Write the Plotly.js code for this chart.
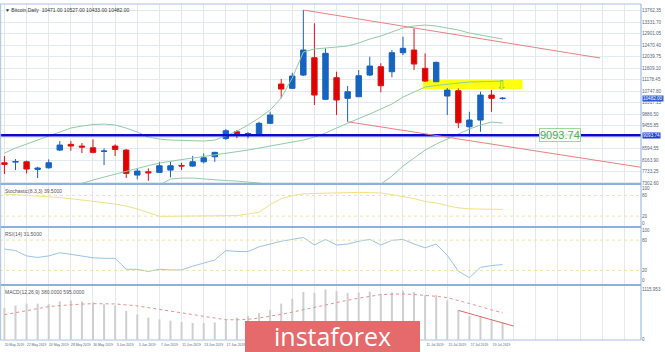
<!DOCTYPE html>
<html><head><meta charset="utf-8">
<script src="https://cdn.plot.ly/plotly-3.0.1.min.js"></script>
<style>html,body{margin:0;padding:0;background:#fff}#c{width:665px;height:352px}</style>
</head><body><div id="c"></div>
<script>
const dates = ["20 May 2019","21 May 2019","22 May 2019","23 May 2019","24 May 2019","27 May 2019","28 May 2019","29 May 2019","30 May 2019","31 May 2019",
"3 Jun 2019","4 Jun 2019","5 Jun 2019","6 Jun 2019","7 Jun 2019","10 Jun 2019","11 Jun 2019","12 Jun 2019","13 Jun 2019","14 Jun 2019",
"17 Jun 2019","18 Jun 2019","19 Jun 2019","20 Jun 2019","21 Jun 2019","24 Jun 2019","25 Jun 2019","26 Jun 2019","27 Jun 2019","28 Jun 2019",
"1 Jul 2019","2 Jul 2019","3 Jul 2019","4 Jul 2019","5 Jul 2019","8 Jul 2019","9 Jul 2019","10 Jul 2019","11 Jul 2019","12 Jul 2019",
"15 Jul 2019","16 Jul 2019","17 Jul 2019","18 Jul 2019","19 Jul 2019","22 Jul 2019"];
const open  = [8060,8086,8098,7812,7872,8537,8751,8687,8623,8488,8687,8537,7598,7722,7700,7786,7955,7936,8098,8285,8969,9224,9100,9100,9540,11015,10854,11353,12003,10441,11252,10478,10538,11353,11665,11477,12191,12292,11605,11102,10565,10764,9412,9664,10602,10471];
const high  = [8312,8199,8143,7910,8188,8875,8875,8800,8939,8601,8751,8575,7861,7850,8098,8098,8060,8312,8413,8473,9326,9288,9213,9600,9975,11203,11440,13794,13295,12356,11477,10940,11541,12040,11793,12292,12791,13107,12168,11853,10865,10854,9975,10726,10790,10527];
const low   = [7636,7786,7662,7486,7842,8500,8511,8424,8413,7974,8312,7486,7437,7384,7673,7512,7786,7910,8038,8098,8913,8988,8976,9082,9513,10478,10828,11316,10227,10415,9851,9600,10527,11316,10704,11267,12104,11541,11090,11090,9851,9363,9036,9224,9975,10433];
const close = [8000,8105,7824,7861,8060,8725,8687,8650,8451,8500,8563,7662,7749,7685,7948,7948,7940,8098,8248,8451,9262,9119,9157,9540,9851,10828,11316,12292,10602,12168,10415,10726,11327,11691,10952,12191,12356,11766,11128,11830,10790,9562,9664,10602,10478,10482];

const bbUpper  = [8424,8612,8762,8913,9063,9213,9363,9438,9495,9513,9476,9363,9213,9025,8950,8913,8894,8875,8875,8913,9063,9251,9476,9739,10039,10490,11241,12217,12330,12367,12405,12442,12555,12705,12818,12968,13118,13193,13231,13193,13118,13043,12930,12855,12780,12705];
const bbMiddle = [6472,6622,6735,6847,6941,7054,7166,7298,7411,7523,7636,7749,7861,7955,8049,8124,8180,8237,8293,8349,8406,8462,8537,8612,8687,8762,8837,8913,9025,9175,9363,9551,9720,9889,10077,10264,10527,10715,10903,10959,11015,11053,11090,11109,11128,11128];
const bbLower  = [4519,4632,4708,4781,4819,4895,4969,5158,5327,5533,5796,6135,6509,6885,7223,7448,7486,7486,7448,7411,7392,7373,7335,7298,7223,7034,6433,5609,5720,5983,6321,6660,6885,7035,7260,7561,7936,8237,8537,8762,8950,9138,9326,9476,9588,9551];

const stoch = [83.9,82,80.5,78.7,77,74,70.4,67,63.9,59.2,54.8,49,40.8,30.1,19.5,19.5,19.5,19.5,19.5,19.5,20.8,21.6,26,31.4,53.2,70.4,79.2,84.7,85.7,87,88.1,89.4,88.8,88,87,82.3,76.9,70.9,62.3,58.4,50.4,43.9,41,40.2,39.8,39.5];
const rsi = [62.4,59.3,48.7,45.7,48.7,55,51.9,48.7,45,43.9,43.9,22.2,22.2,18,22.2,20.9,20.9,28.3,34.6,40.7,59.3,57.4,57.4,66.7,72.2,77.8,81.5,85.2,70.4,81.5,70.4,72.2,77.8,81.5,70.4,79.6,81.5,72.2,64.8,72.2,50,18.5,5.6,25.9,29.6,31.5];
const macdHist = [700,760,800,800,790,850,870,850,830,790,760,640,560,490,450,420,390,370,370,380,450,490,520,590,660,800,910,1060,1040,1116,1080,1040,1050,1070,1020,1050,1090,1060,990,990,870,650,520,520,440,380];
const macdSignal = [552,600,651,693,734,757,779,790,800,798,794,772,750,710,670,632,593,552,511,476,442,440,451,480,517,562,610,665,723,777,831,876,922,962,1002,1010,1017,1004,990,963,936,872,808,735,661,595];

const priceTicks = [7302.60,7733.25,8163.90,8594.55,9025.20,9455.85,9886.50,10317.15,10747.80,11178.45,11609.10,12039.75,12470.40,12901.05,13331.70,13762.35];
const oscTicks = [0,20,80,100];
const oscLevels = [20,80];
const macdTicks = [0,1115.953];
const levelPrice = 9093.74;
const channelUpperX = [27,53.8], channelUpperY = [13794,11992];
const channelLowerX = [31,57.5], channelLowerY = [9600,7891];
const macdTrendX = [41,46], macdTrendY = [650,300];
const zoneX = [37.8,46.8], zoneY = [10830,11165];
const arrowPos = [44.9,10960];
const gridTicks = [0,2,4,6,8,10,12,14,16,18,20,22,24,26,28,30,32,34,36,38,40,42,44,46,48,50,52,54,56];
const logoCoveredBars = [21,37];   // date labels hidden behind the logo in the reference

const idx = dates.map((d,i)=>i);
const last = dates.length-1;
const gridCol = '#e3e9f1';
const tf = {family:'Liberation Sans, Arial, sans-serif', size:4.6, color:'#55657a'};
const xf = {family:'Liberation Sans, Arial, sans-serif', size:3.4, color:'#55657a'};

const traces = [
 {type:'scatter',mode:'lines',x:idx,y:bbUpper,line:{color:'#92cba6',width:1},hoverinfo:'skip'},
 {type:'scatter',mode:'lines',x:idx,y:bbMiddle,line:{color:'#92cba6',width:1},hoverinfo:'skip'},
 {type:'scatter',mode:'lines',x:idx,y:bbLower,line:{color:'#92cba6',width:1},hoverinfo:'skip'},
 {type:'candlestick',x:idx,open:open,high:high,low:low,close:close,whiskerwidth:0,hoverinfo:'skip',
  increasing:{line:{color:'#1762c2',width:1},fillcolor:'#1565c0'},
  decreasing:{line:{color:'#dc1414',width:1},fillcolor:'#e00000'}},
 {type:'scatter',mode:'lines',x:idx,y:stoch,xaxis:'x',yaxis:'y2',line:{color:'#f2df86',width:1},hoverinfo:'skip'},
 {type:'scatter',mode:'lines',x:idx,y:rsi,xaxis:'x',yaxis:'y3',line:{color:'#9cc2e8',width:1},hoverinfo:'skip'},
 {type:'bar',x:idx,y:macdHist,xaxis:'x',yaxis:'y4',width:0.18,marker:{color:'#cfcfcf',line:{width:0}},hoverinfo:'skip'},
 {type:'scatter',mode:'lines',x:idx,y:macdSignal,xaxis:'x',yaxis:'y4',line:{color:'#e89090',width:1,dash:'dot'},hoverinfo:'skip'}
];

const hline = (yref,v,col,w,dash)=>({type:'line',xref:'paper',x0:0,x1:1,yref:yref,y0:v,y1:v,line:{color:col,width:w,dash:dash||'solid'}});
const shapes = [
 {type:'rect',xref:'x',yref:'y',x0:zoneX[0],x1:zoneX[1],y0:zoneY[0],y1:zoneY[1],fillcolor:'#ffff10',line:{width:0},layer:'between'},
 hline('y',levelPrice,'#0a0ad0',2.5),
 {type:'line',xref:'x',yref:'y',x0:channelUpperX[0],x1:channelUpperX[1],y0:channelUpperY[0],y1:channelUpperY[1],line:{color:'#e88080',width:1}},
 {type:'line',xref:'x',yref:'y',x0:channelLowerX[0],x1:channelLowerX[1],y0:channelLowerY[0],y1:channelLowerY[1],line:{color:'#e88080',width:1}},
 {type:'line',xref:'x',yref:'y4',x0:macdTrendX[0],x1:macdTrendX[1],y0:macdTrendY[0],y1:macdTrendY[1],line:{color:'#e06666',width:1}},
 ...oscLevels.map(v=>hline('y2',v,'#efe3a8',1,'dot')),
 ...oscLevels.map(v=>hline('y3',v,'#efe3a8',1,'dot')),
 {type:'line',xref:'paper',yref:'paper',x0:0,x1:1,y0:0.4643,y1:0.4643,line:{color:'#8fb0d8',width:2}},
 {type:'line',xref:'paper',yref:'paper',x0:0,x1:1,y0:0.3363,y1:0.3363,line:{color:'#8fb0d8',width:2}},
 {type:'line',xref:'paper',yref:'paper',x0:0,x1:1,y0:0.1637,y1:0.1637,line:{color:'#8fb0d8',width:2}},
 {type:'line',xref:'paper',yref:'paper',x0:0,x1:1,y0:1,y1:1,line:{color:'#a9c2e2',width:1}},
 {type:'line',xref:'paper',yref:'paper',x0:0,x1:1,y0:0,y1:0,line:{color:'#a9c2e2',width:1}},
 {type:'line',xref:'paper',yref:'paper',x0:1,x1:1,y0:0,y1:1,line:{color:'#8fb0d8',width:1}},
 {type:'line',xref:'paper',yref:'paper',x0:0.001,x1:0.001,y0:0,y1:1,line:{color:'#a9c2e2',width:1}},
 {type:'rect',xref:'paper',yref:'paper',x0:245/641,x1:420/641,y0:-0.04,y1:(340-321)/336,fillcolor:'#e46a6c',line:{width:0},layer:'above'}
];

const lf = {family:'Liberation Sans, Arial',size:5,color:'#555'};
const annotations = [
 {xref:'paper',yref:'paper',x:0.004,y:0.998,yanchor:'top',xanchor:'left',showarrow:false,
  text:'▼ Bitcoin,Daily  '+open[last].toFixed(2)+' '+high[last].toFixed(2)+' '+low[last].toFixed(2)+' '+close[last].toFixed(2),font:{family:'Liberation Sans, Arial',size:5,color:'#333'}},
 {xref:'paper',yref:'paper',x:0.004,y:0.458,yanchor:'top',xanchor:'left',showarrow:false,
  text:'Stochastic(8,3,3) '+stoch[last].toFixed(4),font:lf},
 {xref:'paper',yref:'paper',x:0.004,y:0.330,yanchor:'top',xanchor:'left',showarrow:false,
  text:'RSI(14) '+rsi[last].toFixed(4),font:lf},
 {xref:'paper',yref:'paper',x:0.004,y:0.158,yanchor:'top',xanchor:'left',showarrow:false,
  text:'MACD(12,26,9) '+macdHist[last].toFixed(4)+' '+macdSignal[last].toFixed(4),font:lf},
 {xref:'x',yref:'y',x:50.2,y:levelPrice,showarrow:false,text:levelPrice.toFixed(2),
  font:{family:'Liberation Sans, Arial',size:11,color:'#4caf50'},bgcolor:'rgba(255,255,255,0.9)',bordercolor:'#9fd59f',borderwidth:1,borderpad:0},
 {xref:'paper',yref:'y',x:1,xanchor:'left',xshift:1,y:levelPrice,showarrow:false,text:levelPrice.toFixed(2),
  font:{family:'Liberation Sans, Arial',size:4.6,color:'#fff'},bgcolor:'#1f3fd6',borderpad:0},
 {xref:'paper',yref:'y',x:1,xanchor:'left',xshift:1,y:close[last],showarrow:false,text:close[last].toFixed(2),
  font:{family:'Liberation Sans, Arial',size:4.6,color:'#fff'},bgcolor:'#2a5bd7',borderpad:0},
 {xref:'x',yref:'y',x:arrowPos[0],y:arrowPos[1],showarrow:false,text:'⇩',font:{family:'DejaVu Sans',size:13,color:'#7cc47c'}},
 {xref:'paper',yref:'paper',x:332.5/641,y:(340-336)/336,yanchor:'middle',xanchor:'center',showarrow:false,text:'instaforex',
  font:{family:'Open Sans, Lato, sans-serif',size:25,color:'#ffffff'}}
];

const layout = {
 width:665,height:352,autosize:false,
 margin:{l:0,r:24,t:4,b:12,pad:0},
 paper_bgcolor:'#ffffff',plot_bgcolor:'#ffffff',
 showlegend:false,hovermode:false,dragmode:false,
 font:tf,
 xaxis:{range:[-0.4,57.5],anchor:'y4',tickmode:'array',tickvals:gridTicks,
   ticktext:gridTicks.map(i=>(i<dates.length && (i<logoCoveredBars[0] || i>logoCoveredBars[1]))?dates[i]:''),tickangle:0,
   showgrid:true,gridcolor:gridCol,gridwidth:1,zeroline:false,showline:false,ticks:'',
   tickfont:xf,ticklabelshift:10,ticklabelstandoff:2,rangeslider:{visible:false},fixedrange:true},
 yaxis:{domain:[0.464,1],range:[7260,14019],side:'right',anchor:'x',tickmode:'array',tickvals:priceTicks,
   ticktext:priceTicks.map(v=>Math.abs(v-levelPrice)<100?'':v.toFixed(2)),showgrid:true,gridcolor:gridCol,zeroline:false,ticks:'',tickfont:tf,fixedrange:true},
 yaxis2:{domain:[0.336,0.461],range:[-11.9,109.9],side:'right',anchor:'x',tickmode:'array',tickvals:oscTicks,
   ticktext:oscTicks.map(String),showgrid:false,zeroline:false,ticks:'',tickfont:tf,fixedrange:true},
 yaxis3:{domain:[0.164,0.333],range:[-8.7,103.8],side:'right',anchor:'x',tickmode:'array',tickvals:oscTicks,
   ticktext:oscTicks.map(String),showgrid:false,zeroline:false,ticks:'',tickfont:tf,fixedrange:true},
 yaxis4:{domain:[0,0.161],range:[-11,1196],side:'right',anchor:'x',tickmode:'array',tickvals:macdTicks,
   ticktext:macdTicks.map(String),showgrid:false,zeroline:false,ticks:'',tickfont:tf,fixedrange:true},
 barmode:'overlay',
 shapes:shapes,annotations:annotations
};
Plotly.newPlot('c',traces,layout,{staticPlot:true,displayModeBar:false});
</script></body></html>
